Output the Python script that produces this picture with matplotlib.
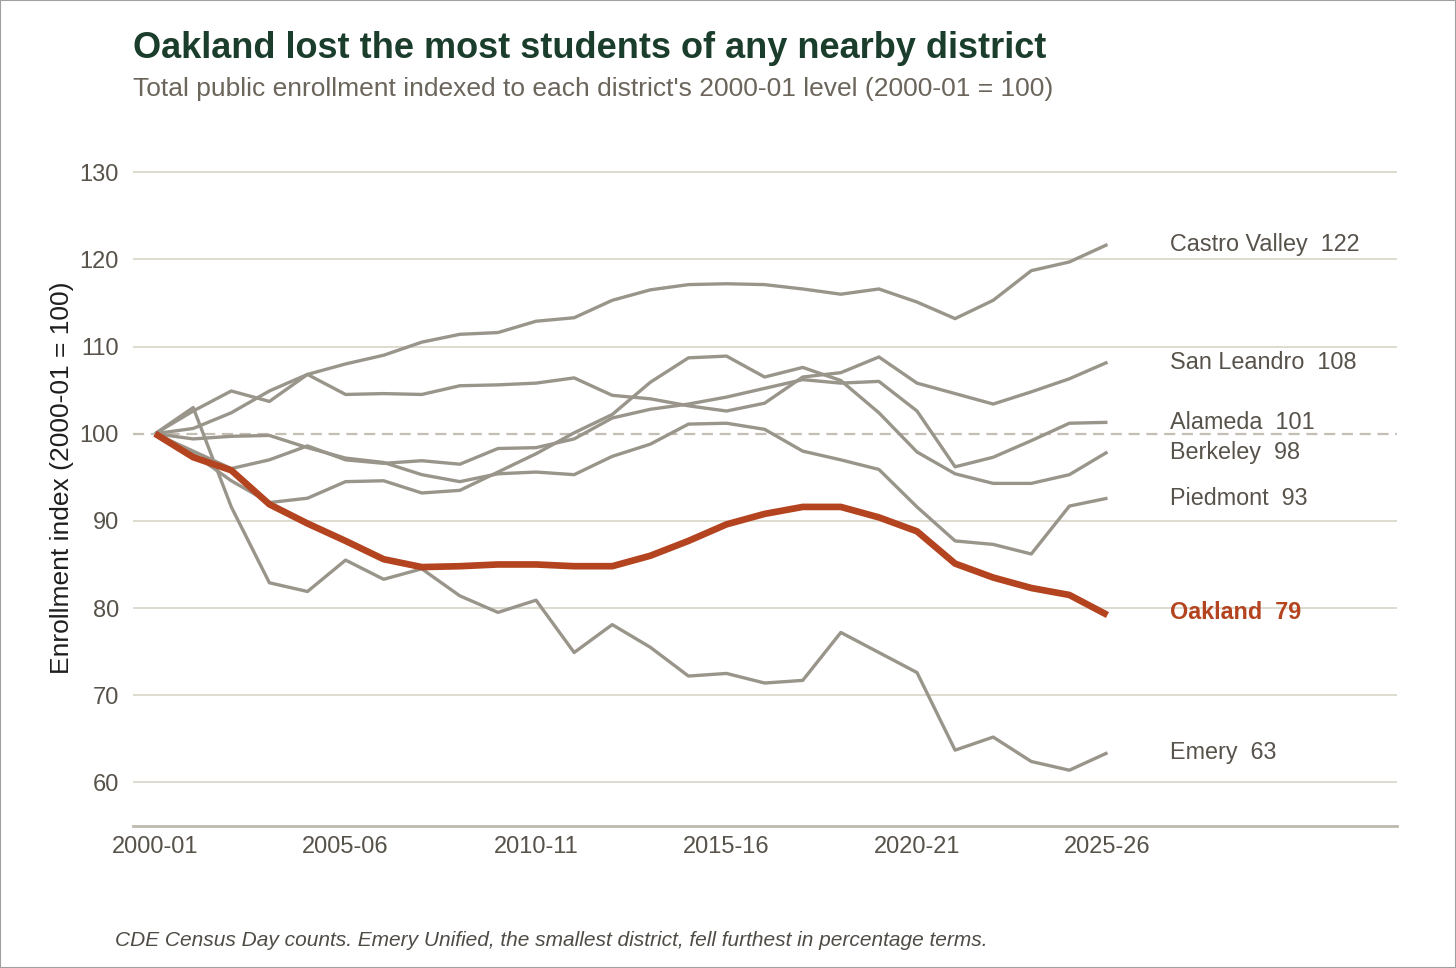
import numpy as np
import matplotlib.pyplot as plt
from matplotlib.patches import Rectangle

plt.rcParams['font.family'] = ['Liberation Sans', 'DejaVu Sans']

# School years 2000-01 .. 2025-26
years = list(range(2000, 2026))
tick_years = [2000, 2005, 2010, 2015, 2020, 2025]
tick_labels = ['2000-01', '2005-06', '2010-11', '2015-16', '2020-21', '2025-26']

castro_valley = [100, 100.6, 102.4, 104.9, 106.8, 108.0, 109.0, 110.5, 111.4, 111.6,
                 112.9, 113.3, 115.3, 116.5, 117.1, 117.2, 117.1, 116.6, 116.0, 116.6,
                 115.1, 113.2, 115.3, 118.7, 119.7, 121.7]
san_leandro = [100, 102.6, 104.9, 103.7, 106.8, 104.5, 104.6, 104.5, 105.5, 105.6,
               105.8, 106.4, 104.4, 104.0, 103.2, 102.6, 103.5, 106.5, 107.0, 108.8,
               105.8, 104.6, 103.4, 104.8, 106.3, 108.2]
alameda = [100, 98.0, 96.0, 97.0, 98.6, 97.0, 96.6, 96.9, 96.5, 98.3,
           98.4, 99.4, 101.8, 102.8, 103.4, 104.2, 105.2, 106.2, 105.8, 106.0,
           102.6, 96.2, 97.3, 99.2, 101.2, 101.3]
berkeley = [100, 97.7, 94.6, 92.1, 92.6, 94.5, 94.6, 93.2, 93.5, 95.6,
            97.7, 100.1, 102.2, 105.9, 108.7, 108.9, 106.5, 107.6, 106.1, 102.4,
            97.9, 95.4, 94.3, 94.3, 95.3, 97.9]
piedmont = [100, 99.4, 99.7, 99.8, 98.4, 97.2, 96.7, 95.3, 94.5, 95.4,
            95.6, 95.3, 97.4, 98.8, 101.1, 101.2, 100.5, 98.0, 97.0, 95.9,
            91.6, 87.7, 87.3, 86.2, 91.7, 92.6]
oakland = [100, 97.3, 95.8, 91.9, 89.7, 87.7, 85.6, 84.7, 84.8, 85.0,
           85.0, 84.8, 84.8, 86.0, 87.7, 89.6, 90.8, 91.6, 91.6, 90.4,
           88.8, 85.1, 83.5, 82.3, 81.5, 79.2]
emery = [100, 103.0, 91.6, 82.9, 81.9, 85.5, 83.3, 84.5, 81.4, 79.5,
         80.9, 74.9, 78.1, 75.5, 72.2, 72.5, 71.4, 71.7, 77.2, 74.9,
         72.6, 63.7, 65.2, 62.4, 61.4, 63.4]

others = {
    'Castro Valley': castro_valley,
    'San Leandro': san_leandro,
    'Alameda': alameda,
    'Berkeley': berkeley,
    'Piedmont': piedmont,
    'Emery': emery,
}

gray = '#9a958b'
red = '#b4441f'
text_gray = '#57524a'

fig = plt.figure(figsize=(14.56, 9.68), dpi=100)
ax = fig.add_axes([133 / 1456, 1 - 826 / 968, (1397 - 133) / 1456, (826 - 146) / 968])

for y in range(60, 131, 10):
    if y == 100:
        continue
    ax.axhline(y, color='#dedbd0', lw=1.4, zorder=0)
ax.axhline(100, color='#c4bfb5', lw=1.6, ls=(0, (5, 3)), zorder=0)

for name, vals in others.items():
    ax.plot(years, vals, color=gray, lw=2.4, solid_capstyle='butt', zorder=2)
    ax.text(years[-1] + 1.63, vals[-1], f'{name}  {vals[-1]:.0f}', color=text_gray,
            fontsize=16.8, va='center', ha='left')

ax.plot(years, oakland, color=red, lw=4.8, solid_capstyle='butt', zorder=3)
ax.text(years[-1] + 1.63, oakland[-1] + 0.3, f'Oakland  {oakland[-1]:.0f}', color=red,
        fontsize=16.8, fontweight='bold', va='center', ha='left')

ax.set_xlim(1999.42, 2032.6)
ax.set_ylim(55, 133)
ax.set_yticks(range(60, 131, 10))
ax.set_xticks(tick_years)
ax.set_xticklabels(tick_labels)
ax.tick_params(length=0, labelsize=17, labelcolor=text_gray)
ax.tick_params(axis='y', pad=10)
ax.tick_params(axis='x', pad=7)
for s in ['top', 'right', 'left']:
    ax.spines[s].set_visible(False)
ax.spines['bottom'].set_color('#bdb9ae')
ax.spines['bottom'].set_linewidth(2)

ax.set_ylabel('Enrollment index (2000-01 = 100)', fontsize=19, color='#1e1e1e')
ax.yaxis.set_label_coords(-0.047, 0.512)

fig.text(133 / 1456, 1 - 49 / 968, 'Oakland lost the most students of any nearby district',
         fontsize=26, fontweight='bold', color='#1b3d2c', va='center', ha='left')
fig.text(133 / 1456, 1 - 89 / 968,
         "Total public enrollment indexed to each district's 2000-01 level (2000-01 = 100)",
         fontsize=19, color='#6b655b', va='center', ha='left')
fig.text(115 / 1456, 1 - 940 / 968,
         'CDE Census Day counts. Emery Unified, the smallest district, fell furthest in percentage terms.',
         fontsize=15, style='italic', color='#4f4b45', va='center', ha='left')

fig.patches.append(Rectangle((0, 0), 1, 1, transform=fig.transFigure, fill=False,
                             edgecolor='#a0a0a0', lw=1.5))

fig.savefig('out.png', dpi=100)
